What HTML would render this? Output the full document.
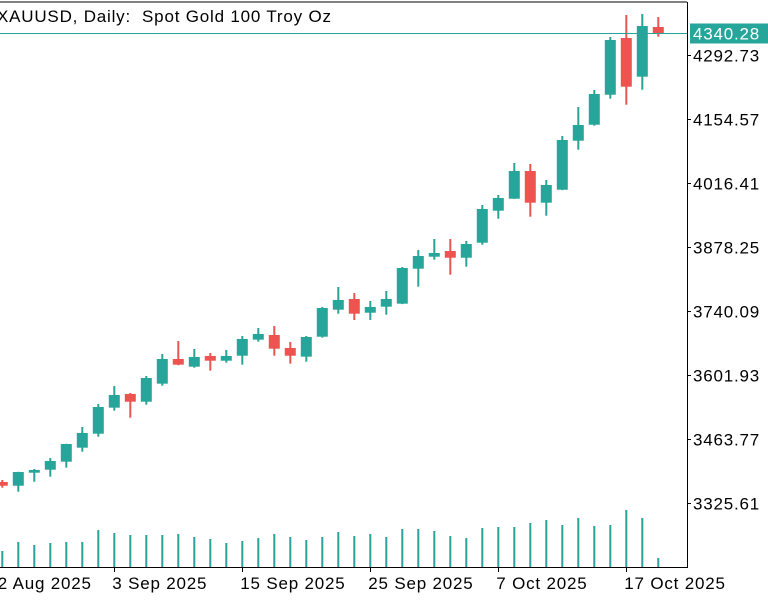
<!DOCTYPE html>
<html><head><meta charset="utf-8"><style>
html,body{margin:0;padding:0;background:#fff;}
#c{position:absolute;left:0;top:0;}
text{font-size:17px;letter-spacing:0.8px;white-space:pre;}
</style></head><body>
<svg id="c" width="768" height="600" xmlns="http://www.w3.org/2000/svg" font-family="Liberation Sans, sans-serif">
<g id="marks"></g>
</svg>
<script>
const dates=["22 Aug","25 Aug","26 Aug","27 Aug","28 Aug","29 Aug","2 Sep","3 Sep","4 Sep","5 Sep","8 Sep","9 Sep","10 Sep","11 Sep","12 Sep","15 Sep","16 Sep","17 Sep","18 Sep","19 Sep","22 Sep","23 Sep","24 Sep","25 Sep","26 Sep","29 Sep","30 Sep","1 Oct","2 Oct","3 Oct","6 Oct","7 Oct","8 Oct","9 Oct","10 Oct","13 Oct","14 Oct","15 Oct","16 Oct","17 Oct","20 Oct","21 Oct"];
const opens=[3370.9,3362.9,3391.0,3397.5,3414.8,3445.0,3475.2,3531.4,3561.0,3544.3,3583.2,3636.5,3619.9,3643.0,3632.8,3643.6,3678.2,3688.3,3660.3,3641.5,3684.6,3742.9,3766.0,3736.4,3749.4,3755.9,3831.4,3857.3,3869.6,3855.1,3887.5,3956.6,3982.5,4042.3,3973.9,4001.9,4107.7,4142.2,4207.0,4329.4,4245.9,4353.2];
const highs=[3375.3,3393.0,3399.0,3422.8,3453.5,3489.7,3539.4,3578.2,3563.1,3599.8,3647.3,3675.4,3658.1,3649.4,3655.9,3686.2,3703.4,3707.7,3673.2,3686.2,3748.8,3791.9,3779.0,3761.7,3783.3,3835.1,3871.8,3895.5,3895.5,3891.2,3968.9,3990.5,4059.6,4057.4,4022.9,4117.9,4180.4,4217.2,4331.6,4379.1,4381.2,4374.7];
const lows=[3358.6,3350.0,3371.6,3382.4,3401.9,3436.4,3468.8,3524.9,3509.8,3537.9,3578.9,3623.0,3617.7,3611.3,3628.5,3624.2,3673.9,3643.6,3626.4,3630.7,3682.5,3734.3,3720.7,3720.7,3732.1,3755.0,3792.6,3850.8,3818.4,3835.7,3883.2,3939.3,3982.0,3943.6,3945.8,4001.0,4088.3,4140.1,4198.4,4185.4,4217.8,4332.2];
const closes=[3362.9,3392.5,3396.9,3416.3,3453.0,3476.8,3532.9,3558.8,3544.3,3595.5,3636.5,3624.2,3640.8,3632.8,3643.0,3679.7,3690.5,3658.7,3643.6,3684.0,3746.6,3763.9,3734.3,3748.8,3766.0,3832.9,3858.8,3865.3,3855.1,3884.7,3960.3,3984.0,4042.3,3973.9,4012.1,4109.2,4141.6,4208.5,4325.1,4224.3,4355.3,4340.28];
const volumes=[16,25,22,24,25,25,37,34,32,32,32,33,30,28,24,26,29,33,30,27,30,35,31,33,30,38,38,36,31,29,39,40,40,44,47,42,49,41,42,57,49,9];
const priceTicks=[3325.61,3463.77,3601.93,3740.09,3878.25,4016.41,4154.57,4292.73];
const xLabels=["22 Aug 2025","3 Sep 2025","15 Sep 2025","25 Sep 2025","7 Oct 2025","17 Oct 2025"];
const xLabelIdx=[-0.8,7,15,23,31,39];
const lastPrice=4340.28;

const NS="http://www.w3.org/2000/svg";
const g=document.getElementById('marks');
const plotR=687, plotB=567;
function xAt(i){return 2.3+16*i;}
function yAt(p){return 55+(4292.73-p)/2.15875;}
function vY(v){return plotB-v;}
function el(tag,attrs,parent){const e=document.createElementNS(NS,tag);for(const k in attrs)e.setAttribute(k,attrs[k]);(parent||g).appendChild(e);return e;}

let f=el('line',{x1:0,y1:2,x2:plotR,y2:2,stroke:'#000','stroke-width':1});


f=el('line',{x1:plotR+0.5,y1:2,x2:plotR+0.5,y2:plotB+1,stroke:'#000','stroke-width':1});


f=el('line',{x1:0,y1:plotB+0.5,x2:plotR,y2:plotB+0.5,stroke:'#000','stroke-width':1});



let t=el('text',{x:-3,y:22,fill:'#000'});
t.textContent='XAUUSD, Daily:  Spot Gold 100 Troy Oz';



priceTicks.forEach(p=>{
  const y=Math.round(yAt(p))+0.5;
  const tk=el('line',{x1:plotR,y1:y,x2:plotR+4,y2:y,stroke:'#000'});
  
  
  const lb=el('text',{x:693,y:y+6,fill:'#000'});
  lb.textContent=p.toFixed(2);
  
  
});

xLabels.forEach((s,k)=>{
  const x=xAt(xLabelIdx[k]);
  const tk=el('line',{x1:Math.round(x)+0.5,y1:plotB,x2:Math.round(x)+0.5,y2:plotB+5,stroke:'#000'});
  
  
  const lb=el('text',{x:x-2,y:589,fill:'#000'});
  lb.textContent=s;
  
  
});

volumes.forEach((v,i)=>{
  const x=xAt(i);
  const r=el('rect',{x:x-1,y:vY(v),width:2,height:v,fill:'#26a69a'});
  
  
});

opens.forEach((o,i)=>{
  const c=closes[i], up=c>=o, col=up?'#26a69a':'#ef5350';
  const x=xAt(i);
  const grp=el('g',{});
  
  
  el('rect',{x:x-1,y:yAt(highs[i]),width:2,height:yAt(lows[i])-yAt(highs[i]),fill:col},grp);
  const top=yAt(Math.max(o,c)), bot=yAt(Math.min(o,c));
  el('rect',{x:x-5.5,y:top,width:11,height:Math.max(1.5,bot-top),fill:col},grp);
});

const ly=Math.round(yAt(lastPrice))+0.5;
let ln=el('line',{x1:0,y1:ly,x2:plotR,y2:ly,stroke:'#26a69a','stroke-width':1});


let bx=el('rect',{x:690,y:ly-10,width:78,height:20,fill:'#26a69a'});


let bt=el('text',{x:693,y:ly+6,fill:'#fff'});
bt.textContent=lastPrice.toFixed(2);


</script>
</body></html>
